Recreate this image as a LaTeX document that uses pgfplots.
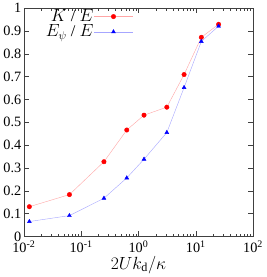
\documentclass[border=0pt]{standalone}
\usepackage{fontspec}
\setmainfont{Liberation Serif}
\usepackage{pgfplots}
\pgfplotsset{compat=1.18}
\begin{document}
\begin{tikzpicture}
\begin{axis}[
  scale only axis,
  width=225pt, height=224pt,
  xmode=log,
  xmin=0.01, xmax=100,
  ymin=0, ymax=1,
  ytick={0,0.1,...,1.01},
  yticklabels={0,0.1,0.2,0.3,0.4,0.5,0.6,0.7,0.8,0.9,1},
  xtick={0.01,0.1,1,10,100},
  xticklabels={10\textsuperscript{-2},10\textsuperscript{-1},10\textsuperscript{0},10\textsuperscript{1},10\textsuperscript{2}},
  tick align=inside,
  tick pos=both,
  major tick length=5pt,
  minor tick length=2.5pt,
  ticklabel style={font=\fontsize{14}{14}\selectfont},
  yticklabel style={xshift=1pt},
  xticklabel style={yshift=-1pt},
  xlabel={$2Uk_{\mathrm{d}}/\kappa$},
  xlabel style={font=\fontsize{17}{17}\selectfont, yshift=4pt},
  legend plot pos=right,
  legend image code/.code={
    \draw[mark repeat=2,mark phase=2,#1] plot coordinates {(0cm,0cm) (0.67cm,0cm) (1.34cm,0cm)};
  },
  legend style={draw=none, fill=none, at={(0.08,1.004)}, anchor=north west,
    font=\fontsize{16}{14}\selectfont, row sep=1pt,
    nodes={inner sep=0.5pt, text height=11pt, text depth=2pt},
    /tikz/every even column/.append style={column sep=10pt}},
  legend cell align=right,
  axis line style={black!75},
  every tick/.style={black!75},
]
\addplot[red!35, thin, mark=*, mark size=2.2pt, mark options={draw=red, fill=red}]
coordinates {
(0.0125,0.130) (0.0625,0.183) (0.25,0.327) (0.625,0.466) (1.25,0.531)
(3.125,0.566) (6.25,0.709) (12.5,0.872) (25,0.929)
};
\addlegendentry{$K$ / $E$}
\addplot[blue!35, thin, mark=triangle*, mark size=2.2pt, mark options={draw=blue, fill=blue}]
coordinates {
(0.0125,0.065) (0.0625,0.091) (0.25,0.167) (0.625,0.256) (1.25,0.338)
(3.125,0.455) (6.25,0.652) (12.5,0.854) (25,0.921)
};
\addlegendentry{$E_{\psi}$ / $E$}
\end{axis}
\end{tikzpicture}
\end{document}
